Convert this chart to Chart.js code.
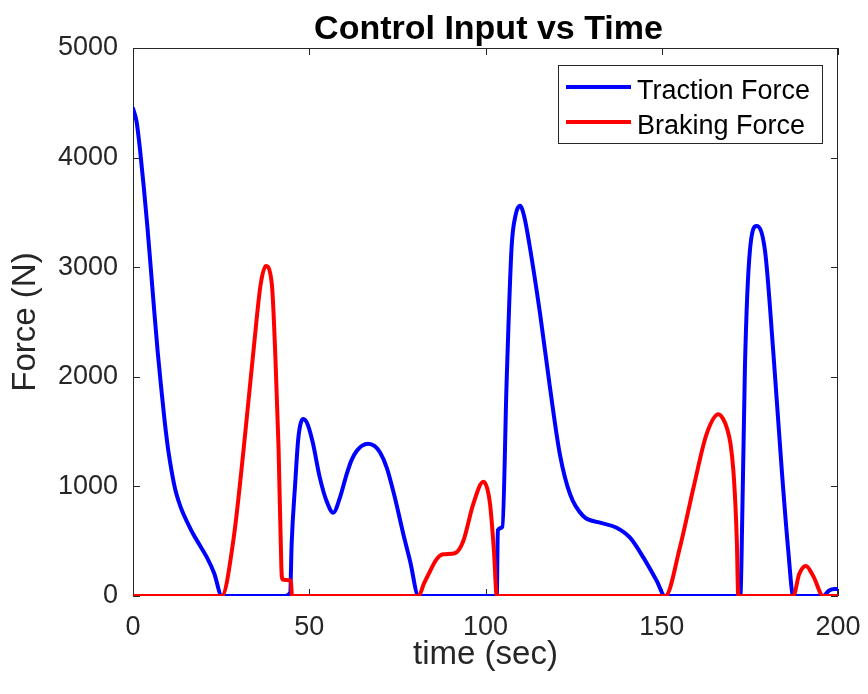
<!DOCTYPE html>
<html>
<head>
<meta charset="utf-8">
<script src="https://cdn.jsdelivr.net/npm/chart.js@4/dist/chart.umd.min.js"></script>
<style>
  body { margin: 0; background: #fff; }
  canvas { display: block; }
</style>
</head>
<body>
<canvas id="forceChart" width="868" height="694"></canvas>
<script>
// values
const tractionTime = [0, 1, 2, 3, 4, 5, 6, 7, 8, 9, 10, 11, 12, 13, 14, 15, 17, 19, 21, 23,
  25.2, 43, 44.6, 45, 46, 46.9, 48.3, 49.5, 51, 53, 54.9, 56.8, 58.7, 60.6, 62, 63.5, 65, 66.7, 68.5, 70.1, 72, 74.3, 76.7, 78.6,
  81, 103.2, 103.5, 104.8, 106, 107.4, 108.5, 109.8, 111, 112.6, 115.5, 118.3, 121.1, 124, 127.7, 132.5, 137.2, 141, 144.8, 148.6,
  150.9, 172.3, 172.6, 173.6, 175, 176.9, 179.3, 181.6, 184, 185.9, 187.3, 195.8, 197.5, 199, 200];
const tractionForce = [4450, 4330, 4070, 3750, 3400, 3010, 2610, 2230, 1900, 1590, 1330, 1130, 970, 860, 770, 700, 570, 460, 350, 210,
  0, 0, 30, 470, 1020, 1440, 1615, 1570, 1400, 1080, 867, 760, 897, 1110, 1240, 1325, 1372, 1390, 1370, 1310, 1170, 897, 563, 319,
  0, 0, 600, 630, 1960, 3180, 3470, 3560, 3460, 3180, 2570, 1900, 1293, 928, 730, 669, 623, 532, 350, 137,
  0, 0, 290, 2092, 3148, 3376, 3148, 2245, 1170, 410, 0, 0, 50, 65, 65];

const brakingTime = [0, 25.2, 28.5, 31.4, 34.3, 36.2, 37.7, 39.4, 40.4, 41.3, 42.1, 42.4, 44.8, 45.1,
  81, 82.5, 84.3, 86, 88, 91.3, 93.7, 96.5, 99.4, 100.5, 101.3, 102.4, 103.2,
  151, 155.2, 159, 162.7, 166.1, 167.5, 168.5, 169.5, 170.3, 170.9, 171.3, 171.7, 187.3, 189, 190.9, 193, 195.8, 200];
const brakingForce = [0, 0, 515, 1345, 2276, 2840, 3010, 2840, 2176, 1345, 250, 150, 140, 0,
  0, 110, 228, 330, 380, 390, 502, 837, 1043, 980, 837, 410, 0,
  0, 450, 988, 1475, 1658, 1610, 1530, 1390, 1150, 830, 500, 0, 0, 200, 274, 180, 0, 0];

const xTickValues = [0, 50, 100, 150, 200];
const yTickValues = [0, 1000, 2000, 3000, 4000, 5000];

const seriesNames = ['Traction Force', 'Braking Force'];
const seriesColors = ['#0000ff', '#ff0000'];
const chartTitle = 'Control Input vs Time';

const axisColor = '#262626';
const tickFont = { family: 'Liberation Sans, Arial, sans-serif', size: 27 };
const labelFont = { family: 'Liberation Sans, Arial, sans-serif', size: 33 };

function toPoints(xs, ys) {
  return xs.map((x, i) => ({ x: x, y: ys[i] }));
}

// matlab style box with inward ticks, title and legend
const matlabFrame = {
  id: 'matlabFrame',
  beforeDatasetsDraw(chart) {
    const { ctx, chartArea: a, scales } = chart;
    const len = 7;
    ctx.save();
    ctx.strokeStyle = axisColor;
    ctx.lineWidth = 1;
    ctx.strokeRect(a.left + 0.5, a.top + 0.5, a.right - a.left - 1, a.bottom - a.top - 1);
    ctx.beginPath();
    xTickValues.forEach(v => {
      const px = Math.round(scales.x.getPixelForValue(v)) + 0.5;
      ctx.moveTo(px, a.bottom); ctx.lineTo(px, a.bottom - len);
      ctx.moveTo(px, a.top); ctx.lineTo(px, a.top + len);
    });
    yTickValues.forEach(v => {
      const py = Math.round(scales.y.getPixelForValue(v)) + 0.5;
      ctx.moveTo(a.left, py); ctx.lineTo(a.left + len, py);
      ctx.moveTo(a.right, py); ctx.lineTo(a.right - len, py);
    });
    ctx.stroke();
    ctx.restore();
  },
  afterDraw(chart) {
    const { ctx, chartArea: a } = chart;
    ctx.save();
    // title
    ctx.fillStyle = '#000';
    ctx.font = 'bold 34px "Liberation Sans", Arial, sans-serif';
    ctx.textAlign = 'center';
    ctx.textBaseline = 'alphabetic';
    ctx.fillText(chartTitle, (a.left + a.right) / 2 + 3, 39);

    // legend
    const bx = a.right - 280, by = a.top + 17, bw = 264, bh = 78;
    ctx.fillStyle = '#fff';
    ctx.fillRect(bx, by, bw, bh);
    ctx.strokeStyle = axisColor;
    ctx.lineWidth = 1;
    ctx.strokeRect(bx + 0.5, by + 0.5, bw, bh);
    ctx.font = '27px "Liberation Sans", Arial, sans-serif';
    ctx.textAlign = 'left';
    seriesNames.forEach((name, i) => {
      const ly = by + 22 + i * 35;
      ctx.strokeStyle = seriesColors[i];
      ctx.lineWidth = 4;
      ctx.beginPath();
      ctx.moveTo(bx + 8, ly);
      ctx.lineTo(bx + 73, ly);
      ctx.stroke();
      ctx.fillStyle = '#000';
      ctx.fillText(name, bx + 79, ly + 12);
    });
    ctx.restore();
  }
};

const ctx = document.getElementById('forceChart').getContext('2d');
const forceChart = new Chart(ctx, {
  type: 'line',
  data: {
    datasets: [
      {
        label: seriesNames[0],
        data: toPoints(tractionTime, tractionForce),
        borderColor: seriesColors[0],
        borderWidth: 4,
        cubicInterpolationMode: 'monotone',
        borderJoinStyle: 'round',
        borderCapStyle: 'round',
        pointRadius: 0,
        fill: false,
        order: 2
      },
      {
        label: seriesNames[1],
        data: toPoints(brakingTime, brakingForce),
        borderColor: seriesColors[1],
        borderWidth: 4,
        cubicInterpolationMode: 'monotone',
        borderJoinStyle: 'round',
        borderCapStyle: 'round',
        pointRadius: 0,
        fill: false,
        order: 1
      }
    ]
  },
  options: {
    responsive: false,
    animation: false,
    layout: { padding: { top: 48, right: 30, left: 0, bottom: 0 } },
    plugins: {
      legend: { display: false },
      tooltip: { enabled: false },
      title: { display: false }
    },
    scales: {
      x: {
        type: 'linear',
        min: 0,
        max: 200,
        afterFit: s => { s.height = 98; s.paddingLeft = 0; s.paddingRight = 0; },
        afterBuildTicks: s => { s.ticks = xTickValues.map(v => ({ value: v })); },
        grid: { display: false, drawTicks: false },
        border: { display: false },
        ticks: { color: axisColor, font: tickFont, padding: 15, maxRotation: 0, callback: v => String(v) },
        title: { display: true, text: 'time (sec)', color: axisColor, font: labelFont, padding: { top: 0, bottom: 19 } }
      },
      y: {
        min: 0,
        max: 5000,
        afterFit: s => { s.width = 133; s.paddingTop = 0; s.paddingBottom = 0; },
        afterBuildTicks: s => { s.ticks = yTickValues.map(v => ({ value: v })); },
        grid: { display: false, drawTicks: false },
        border: { display: false },
        ticks: { color: axisColor, font: tickFont, padding: 15, callback: v => String(v) },
        title: { display: true, text: 'Force (N)', color: axisColor, font: labelFont, padding: { top: 6, bottom: 0 } }
      }
    }
  },
  plugins: [matlabFrame]
});
</script>
</body>
</html>
